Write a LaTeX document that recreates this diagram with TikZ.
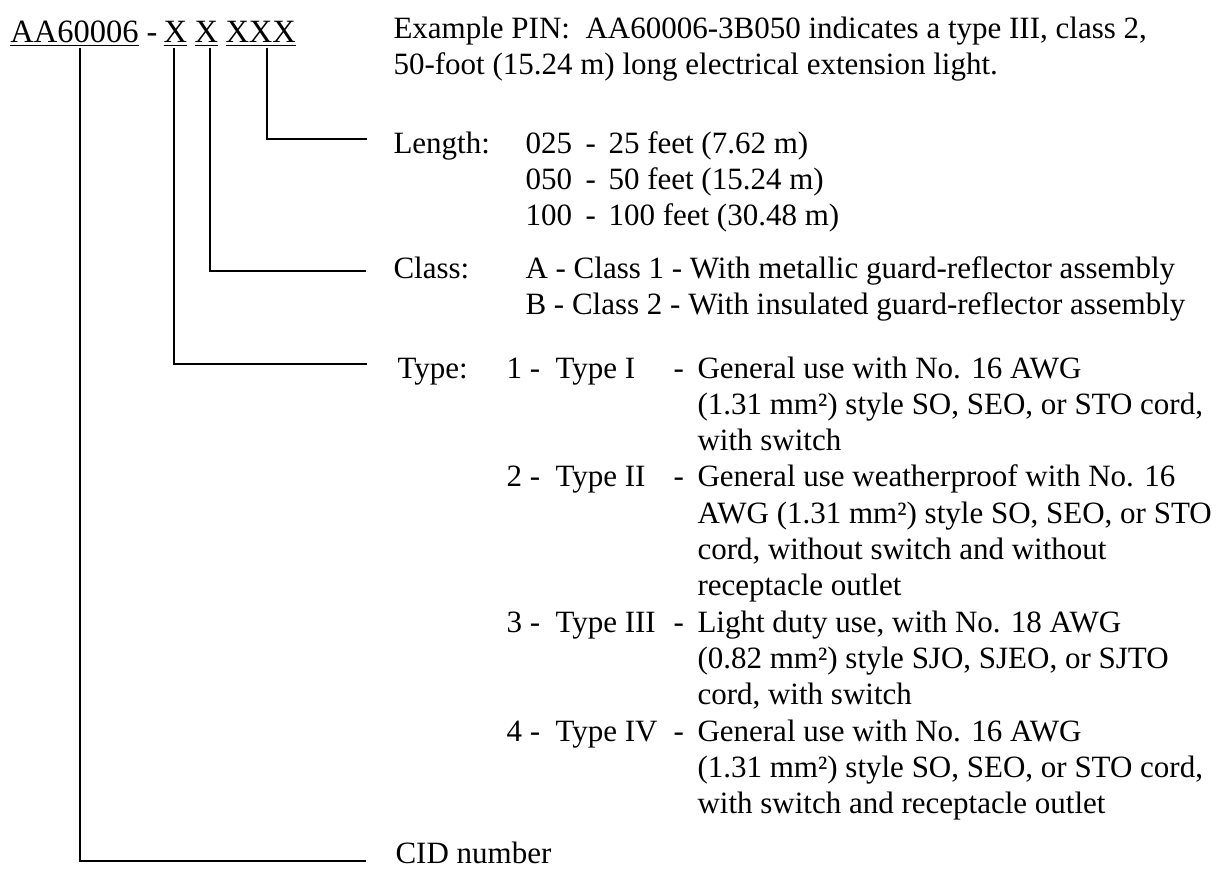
\documentclass[tikz,border=0pt]{standalone}
\usepackage{fontspec}
\setmainfont{Liberation Serif}
\usetikzlibrary{positioning}
\newcommand{\rows}[1]{\begin{tabular}[t]{@{}l@{}}#1\end{tabular}}

\begin{document}
\begin{tikzpicture}[
  x=0.4pt, y=-0.4pt,
  txt/.style ={anchor=base west, inner sep=0pt,
               font=\fontsize{12.4}{14.52}\selectfont},
  pin/.style ={anchor=base west, inner sep=0pt, font=\fontsize{13}{14}\selectfont},
  lead/.style={draw=black, line width=0.8pt},
]
\useasboundingbox (0,0) rectangle (1232,869);
% ---------------- part number (top left) ----------------
\node[pin] (cid) at (10,42)  {\underline{AA60006}};
\node[pin] (sep) at (146,42) {-};
\node[pin] (typ) at (163,42) {\underline{X}};
\node[pin] (cls) at (194,42) {\underline{X}};
\node[pin] (len) at (225,42) {\underline{XXX}};
% ---------------- example ----------------
\node[txt] (example) at (393,38)
  {\rows{Example PIN:\ \ AA60006-3B050 indicates a type III, class 2,\\
   50-foot (15.24 m) long electrical extension light.}};
% ---------------- length ----------------
\node[txt] (lenlab)  at (393,153) {Length:};
\node[txt] (lencode) at (525,153) {\rows{025\\050\\100}};
\node[txt] (lendash) at (585,153) {\rows{-\\-\\-}};
\node[txt] (lenval)  at (608,153) {\rows{25 feet (7.62 m)\\50 feet (15.24 m)\\100 feet (30.48 m)}};
% ---------------- class ----------------
\node[txt] (clslab) at (393,278) {Class:};
\node[txt] (clsval) at (525,278)
  {\rows{A - Class 1 - With metallic guard-reflector assembly\\
   B - Class 2 - With insulated guard-reflector assembly}};
% ---------------- type ----------------
\node[txt] (typlab) at (397,378) {Type:};
\foreach \n/\t/\k in {1/I/0, 2/II/3, 3/III/7, 4/IV/10} {
  \node[txt] (num\n)  at (506,{378+\k*36.3}) {\n\ -};
  \node[txt] (name\n) at (555,{378+\k*36.3}) {Type \t};
  \node[txt] (dash\n) at (673,{378+\k*36.3}) {-};
}
\node[txt] (typval) at (697,378)
  {\rows{General use with No. 16 AWG\\
   (1.31 mm²) style SO, SEO, or STO cord,\\
   with switch\\
   General use weatherproof with No. 16\\
   AWG (1.31 mm²) style SO, SEO, or STO\\
   cord, without switch and without\\
   receptacle outlet\\
   Light duty use, with No. 18 AWG\\
   (0.82 mm²) style SJO, SJEO, or SJTO\\
   cord, with switch\\
   General use with No. 16 AWG\\
   (1.31 mm²) style SO, SEO, or STO cord,\\
   with switch and receptacle outlet}};
% ---------------- CID ----------------
\node[txt] (cidlab) at (395,863) {CID number};

% ---------------- leader lines ----------------
\coordinate (lenend) at (367,139);
\coordinate (clsend) at (366,271);
\coordinate (typend) at (367,364);
\coordinate (cidend) at (366,861);
\draw[lead] ([xshift=2.4pt]len.south) |- (lenend);
\draw[lead] ([xshift=1.4pt]cls.south) |- (clsend);
\draw[lead] ([xshift=-0.4pt]typ.south) |- (typend);
\draw[lead] ([xshift=2.2pt]cid.south) |- (cidend);
\end{tikzpicture}
\end{document}
